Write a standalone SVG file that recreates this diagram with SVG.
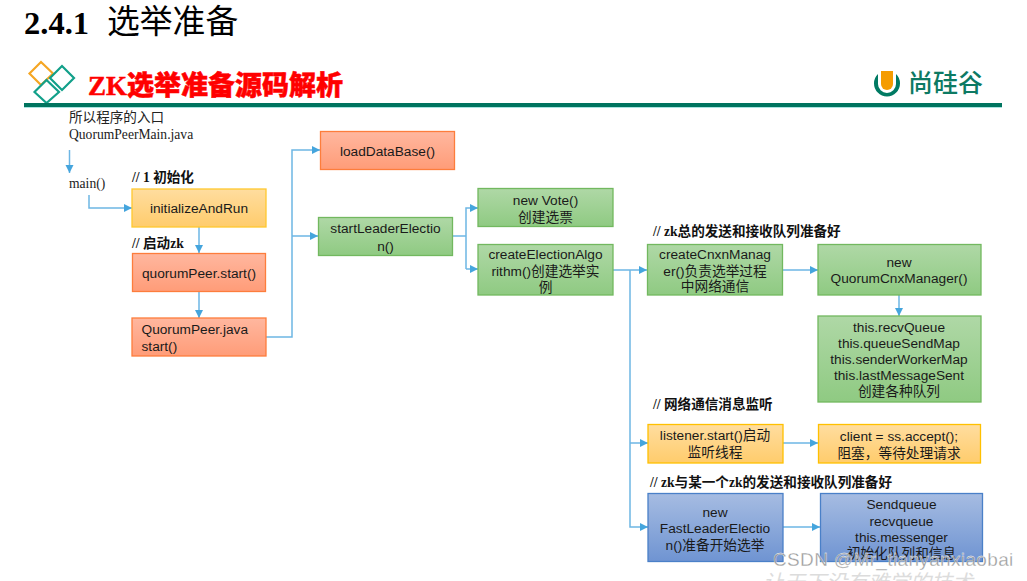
<svg xmlns="http://www.w3.org/2000/svg" width="1027" height="581" viewBox="0 0 1027 581">
<defs>
<linearGradient id="gO" x1="0" y1="0" x2="0" y2="1"><stop offset="0" stop-color="#ffb79f"/><stop offset="1" stop-color="#ff9c78"/></linearGradient>
<linearGradient id="gY" x1="0" y1="0" x2="0" y2="1"><stop offset="0" stop-color="#ffdd9f"/><stop offset="1" stop-color="#ffcc6c"/></linearGradient>
<linearGradient id="gG" x1="0" y1="0" x2="0" y2="1"><stop offset="0" stop-color="#afd8a6"/><stop offset="1" stop-color="#8fca82"/></linearGradient>
<linearGradient id="gB" x1="0" y1="0" x2="0" y2="1"><stop offset="0" stop-color="#a6bce2"/><stop offset="1" stop-color="#6f94d2"/></linearGradient>
<marker id="arr" markerUnits="userSpaceOnUse" markerWidth="10" markerHeight="10" refX="8" refY="4" orient="auto"><path d="M0,0 L8,4 L0,8 Z" fill="#45a5dd"/></marker>
</defs>
<style>
text{font-family:"Liberation Sans","Noto Sans CJK SC",sans-serif;fill:#1a1a1a}
.n text{font-size:13.7px;text-anchor:middle}
.o{fill:url(#gO);stroke:#fd7d3c;stroke-width:1.3}
.y{fill:url(#gY);stroke:#ffc82e;stroke-width:1.3}
.g{fill:url(#gG);stroke:#72b85f;stroke-width:1.3}
.b{fill:url(#gB);stroke:#4a80c8;stroke-width:1.3}
.c{font-family:"Liberation Serif","Noto Sans CJK SC",serif;font-weight:700;font-size:13.6px;fill:#111}
.s{font-family:"Liberation Serif","Noto Sans CJK SC",serif;font-size:13.600px;fill:#222}
.l{fill:none;stroke:#6db6e4;stroke-width:1.5;marker-end:url(#arr)}
.l2{fill:none;stroke:#6db6e4;stroke-width:1.5}
</style>
<rect width="1027" height="581" fill="#ffffff"/>

<g id="title">
<text x="24" y="34" style="font-family:'Liberation Serif',serif;font-weight:700;font-size:32.5px;fill:#000">2.4.1</text>
<text x="107" y="33" style="font-family:'Noto Sans CJK SC',sans-serif;font-size:32.8px;fill:#000">选举准备</text>
</g>

<g id="header">
<g fill="none" stroke-width="2.2">
<path d="M29.500,73.500 L41,62 L53,73.500 L41,85 Z" stroke="#f5a623"/>
<path d="M50,78 L62,66 L74,78 L62,90 Z" stroke="#12a08a"/>
<path d="M34.500,92 L46.500,80 L59,92 L46.500,103 Z" stroke="#12a08a"/>
</g>
<text x="88" y="95" style="font-family:'Liberation Serif','Noto Sans CJK SC',serif;font-weight:900;font-size:27px;fill:#ff0000;stroke:#ff0000;stroke-width:.5">ZK选举准备源码解析</text>
<rect x="24" y="103" width="978" height="4" fill="#00745f"/>
<rect x="24" y="107" width="978" height="1" fill="#a8e4e0"/>
<g id="logo">
<path d="M878,74 A13,13 0 1 0 896,74 L896,84 A9,9 0 0 1 878,84 Z" fill="#007a63"/>
<path d="M881,71 H893 V84 A6,6 0 0 1 881,84 Z" fill="#f59c00"/>
<text x="908" y="92" style="font-family:'Noto Sans CJK SC',sans-serif;font-size:25px;font-weight:500;fill:#0d7a63">尚硅谷</text>
</g>
</g>

<g id="connectors">
<path class="l" d="M69.500,150 V173"/>
<path class="l" d="M89,195 V208 H132"/>
<path class="l" d="M199,227 V253"/>
<path class="l" d="M199,292 V318"/>
<path class="l" d="M266,337 H292 V150 H320"/>
<path class="l" d="M292,236 H318"/>
<path class="l2" d="M453,236 H466"/>
<path class="l" d="M466,269 V208 H478"/>
<path class="l" d="M466,269 H478"/>
<path class="l" d="M613,270 H647"/>
<path class="l" d="M630,270 V527 H648"/>
<path class="l" d="M630,443 H648"/>
<path class="l" d="M783,270 H818"/>
<path class="l" d="M899,295 V316"/>
<path class="l" d="M783,443 H818"/>
<path class="l" d="M783,527 H820"/>
</g>

<g id="labels">
<text class="s" x="69" y="122">所以程序的入口</text>
<text class="s" x="69" y="139">QuorumPeerMain.java</text>
<text class="s" x="69" y="188">main()</text>
<text class="c" x="132" y="182">// 1 初始化</text>
<text class="c" x="132" y="248">// 启动zk</text>
<text class="c" x="653" y="236">// zk总的发送和接收队列准备好</text>
<text class="c" x="653" y="409">// 网络通信消息监听</text>
<text class="c" x="650" y="487">// zk与某一个zk的发送和接收队列准备好</text>
</g>

<g id="loadDataBase" class="n"><rect class="o" x="320.500" y="131.500" width="134" height="38"/><text x="387.500" y="156">loadDataBase()</text></g>
<g id="initializeAndRun" class="n"><rect class="y" x="132" y="189" width="134" height="38"/><text x="199" y="213">initializeAndRun</text></g>
<g id="quorumPeerStart" class="n"><rect class="o" x="132.500" y="253.500" width="133" height="38"/><text x="199" y="278">quorumPeer.start()</text></g>
<g id="quorumPeerJava" class="n"><rect class="o" x="132" y="318" width="134" height="38"/><text x="141.500" y="334" style="text-anchor:start">QuorumPeer.java</text><text x="141.500" y="351" style="text-anchor:start">start()</text></g>
<g id="startLeaderElection" class="n"><rect class="g" x="318.500" y="217.500" width="134" height="38"/><text x="385.500" y="233">startLeaderElectio</text><text x="385.500" y="251">n()</text></g>
<g id="newVote" class="n"><rect class="g" x="478" y="188.500" width="135" height="38"/><text x="545.500" y="205">new Vote()</text><text x="545.500" y="222">创建选票</text></g>
<g id="createElectionAlgorithm" class="n"><rect class="g" x="478" y="244.500" width="135" height="50.500"/><text x="545.500" y="259">createElectionAlgo</text><text x="545.500" y="276">rithm()创建选举实</text><text x="545.500" y="292">例</text></g>
<g id="createCnxnManager" class="n"><rect class="g" x="647.500" y="244.500" width="135" height="50.500"/><text x="715" y="259">createCnxnManag</text><text x="715" y="276">er()负责选举过程</text><text x="715" y="291">中网络通信</text></g>
<g id="quorumCnxManager" class="n"><rect class="g" x="818" y="244.500" width="163" height="50.500"/><text x="899" y="267">new</text><text x="899" y="283">QuorumCnxManager()</text></g>
<g id="queues" class="n"><rect class="g" x="818" y="316" width="163" height="86"/><text x="899" y="332">this.recvQueue</text><text x="899" y="348">this.queueSendMap</text><text x="899" y="364">this.senderWorkerMap</text><text x="899" y="380">this.lastMessageSent</text><text x="899" y="396">创建各种队列</text></g>
<g id="listener" class="n"><rect class="y" style="stroke:#ffc000" x="648" y="424.500" width="135" height="38.500"/><text x="715" y="440">listener.start()启动</text><text x="715" y="457">监听线程</text></g>
<g id="accept" class="n"><rect class="y" style="stroke:#ffc000" x="818.500" y="424.500" width="162" height="38.500"/><text x="899" y="441">client = ss.accept();</text><text x="899" y="458">阻塞，等待处理请求</text></g>
<g id="fastLeaderElection" class="n"><rect class="b" x="648" y="493.500" width="135" height="68"/><text x="715" y="517">new</text><text x="715" y="533">FastLeaderElectio</text><text x="715" y="550">n()准备开始选举</text></g>
<g id="sendQueue" class="n"><rect class="b" x="820.500" y="493.500" width="162" height="68"/><text x="901.500" y="509">Sendqueue</text><text x="901.500" y="526">recvqueue</text><text x="901.500" y="542">this.messenger</text><text x="901.500" y="558">初始化队列和信息</text></g>

<g id="watermark">
<text x="763" y="590" style="font-family:'Noto Sans CJK SC',sans-serif;font-size:21px;font-style:italic;fill:#dcdcdc">让天下没有难学的技术</text>
<text x="773" y="566" style="font-size:19px;fill:#8f8f8f;fill-opacity:.9;stroke:#ffffff;stroke-width:.3;letter-spacing:.35px">CSDN @Mr_tianyanxiaobai</text>
</g>
</svg>
